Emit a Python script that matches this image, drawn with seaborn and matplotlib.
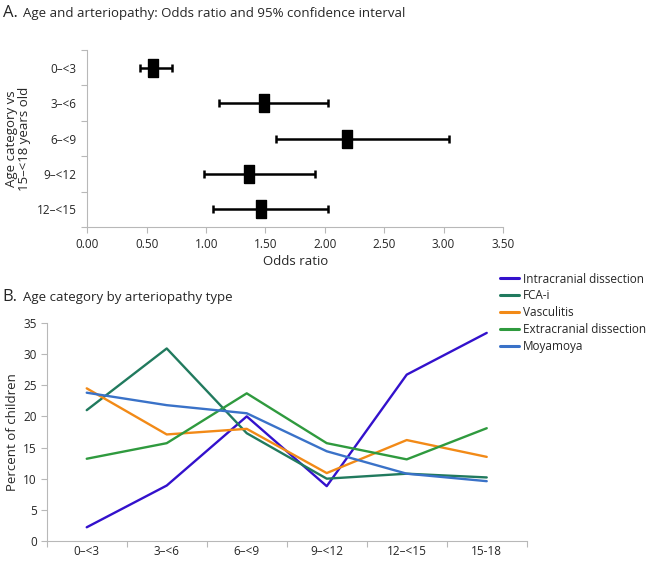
import numpy as np
import pandas as pd
import matplotlib
matplotlib.use("Agg")
import matplotlib.pyplot as plt
import seaborn as sns

sns.set_theme(style="white")
plt.rcParams['font.family'] = ['Open Sans', 'DejaVu Sans']

# Panel A: odds ratio and 95% CI
idades_or = ['0–<3', '3–<6', '6–<9', '9–<12', '12–<15']
odds = [0.55, 1.49, 2.19, 1.36, 1.46]
ic_inf = [0.44, 1.11, 1.59, 0.98, 1.06]
ic_sup = [0.71, 2.03, 3.05, 1.92, 2.03]

# Panel B: percent of children by arteriopathy type
idades = ['0–<3', '3–<6', '6–<9', '9–<12', '12–<15', '15-18']
tipos = ['Intracranial dissection', 'FCA-i', 'Vasculitis',
         'Extracranial dissection', 'Moyamoya']
intracraniana = [2.2, 8.9, 20.0, 8.8, 26.7, 33.4]
fca = [21.0, 30.9, 17.3, 10.0, 10.8, 10.2]
vasculite = [24.5, 17.1, 18.0, 10.9, 16.2, 13.5]
extracraniana = [13.2, 15.7, 23.7, 15.7, 13.1, 18.1]
moyamoya = [23.8, 21.8, 20.5, 14.4, 10.8, 9.6]
cores = ['#3311cc', '#217a5e', '#f28a17', '#2f9a3e', '#3a72c8']

cinza = '#b8b8b8'

fig = plt.figure(figsize=(6.49, 5.62), dpi=100)

# ---------------- A ----------------
ax1 = fig.add_axes([0.1348, 0.596, 0.640, 0.315])
df_or = pd.DataFrame({'idade': idades_or, 'odds': odds,
                      'inf': ic_inf, 'sup': ic_sup})
df_or['pos'] = np.arange(len(df_or))

ax1.errorbar(df_or['odds'], df_or['pos'],
             xerr=[df_or['odds'] - df_or['inf'], df_or['sup'] - df_or['odds']],
             fmt='none', ecolor='black', elinewidth=1.8, capsize=3, capthick=1.8)
ret = [(-0.28, -0.5), (0.28, -0.5), (0.28, 0.5), (-0.28, 0.5), (-0.28, -0.5)]
sns.scatterplot(data=df_or, x='odds', y='pos', marker=ret, s=150,
                color='black', edgecolor='black', ax=ax1, zorder=3)

ax1.set_xlim(0, 3.5)
ax1.set_ylim(len(idades_or) - 0.5, -0.5)
ax1.set_xticks(np.arange(0, 3.51, 0.5))
ax1.set_xticklabels([f'{v:.2f}' for v in np.arange(0, 3.51, 0.5)], fontsize=8.5)
ax1.set_yticks(df_or['pos'])
ax1.set_yticklabels(idades_or, fontsize=8.5)
ax1.set_yticks(np.arange(-0.5, len(idades_or), 1), minor=True)
ax1.tick_params(axis='y', which='major', length=0, pad=8)
ax1.tick_params(axis='y', which='minor', length=4, color=cinza, width=0.8, left=True)
ax1.tick_params(axis='x', length=4, color=cinza, width=0.8, bottom=True, pad=4)
ax1.set_xlabel('Odds ratio', fontsize=9.5, labelpad=3)
ax1.set_ylabel('Age category vs\n15–<18 years old', fontsize=9.5, labelpad=4,
               linespacing=1.0)
for lado in ['top', 'right']:
    ax1.spines[lado].set_visible(False)
for lado in ['left', 'bottom']:
    ax1.spines[lado].set_color(cinza)
    ax1.spines[lado].set_linewidth(0.8)

fig.text(0.004, 0.977, 'A.', fontsize=12, va='center', ha='left')
fig.text(0.036, 0.976, 'Age and arteriopathy: Odds ratio and 95% confidence interval',
         fontsize=9.5, va='center', ha='left')

# ---------------- B ----------------
ax2 = fig.add_axes([0.072, 0.0374, 0.7396, 0.388])
df = pd.DataFrame({'idade': idades * 5,
                   'pos': list(range(len(idades))) * 5,
                   'tipo': np.repeat(tipos, len(idades)),
                   'pct': intracraniana + fca + vasculite + extracraniana + moyamoya})
sns.lineplot(data=df, x='pos', y='pct', hue='tipo', hue_order=tipos,
             palette=cores, linewidth=1.7, ax=ax2)

ax2.set_xlim(-0.5, len(idades) - 0.5)
ax2.set_ylim(0, 35)
ax2.set_yticks(range(0, 36, 5))
ax2.set_yticklabels(range(0, 36, 5), fontsize=8.5)
ax2.set_xticks(range(len(idades)))
ax2.set_xticklabels(idades, fontsize=8.5)
ax2.set_xticks(np.arange(-0.5, len(idades), 1), minor=True)
ax2.tick_params(axis='x', which='major', length=0, pad=3)
ax2.tick_params(axis='x', which='minor', length=4, color=cinza, width=0.8, bottom=True)
ax2.tick_params(axis='y', length=4, color=cinza, width=0.8, left=True, pad=3)
ax2.set_xlabel('')
ax2.set_ylabel('Percent of children', fontsize=9.5, labelpad=3)
for lado in ['top', 'right']:
    ax2.spines[lado].set_visible(False)
for lado in ['left', 'bottom']:
    ax2.spines[lado].set_color(cinza)
    ax2.spines[lado].set_linewidth(0.8)

leg = ax2.legend(loc='upper left', bbox_to_anchor=(0.771, 0.515),
                 bbox_transform=fig.transFigure, frameon=False, fontsize=8.5,
                 handlelength=1.6, handletextpad=0.3, labelspacing=0.32,
                 borderaxespad=0, borderpad=0)
for linha in leg.get_lines():
    linha.set_linewidth(2.2)

fig.text(0.004, 0.471, 'B.', fontsize=12, va='center', ha='left')
fig.text(0.036, 0.470, 'Age category by arteriopathy type',
         fontsize=9.5, va='center', ha='left')

fig.savefig('out.png', dpi=100)
